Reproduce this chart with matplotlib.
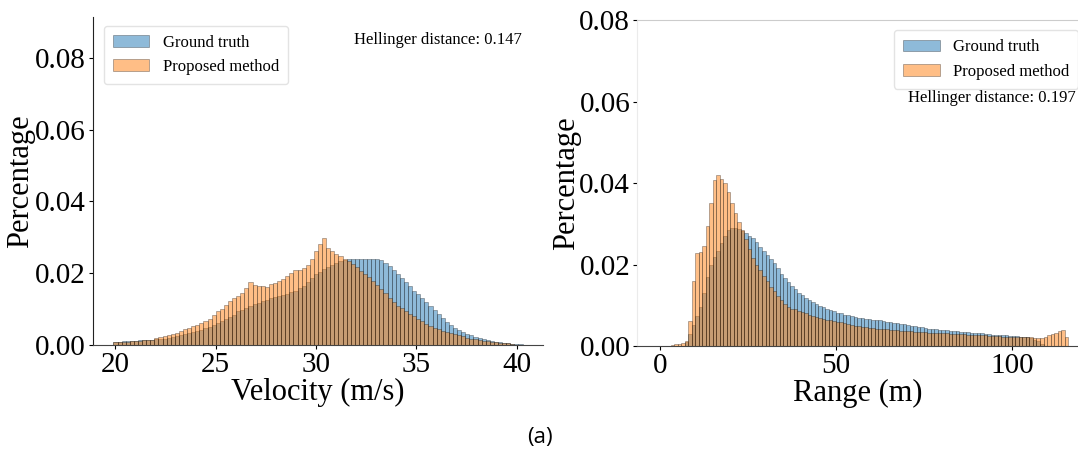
import numpy as np
import matplotlib
matplotlib.use("Agg")
import matplotlib.pyplot as plt
from matplotlib.ticker import FormatStrFormatter

plt.rcParams['font.family'] = ['Liberation Serif', 'DejaVu Serif']

# -----------------------------
# Input data (bin heights)
# -----------------------------

vel_lo, vel_hi, vel_nbins = 19.9, 40.3, 100

vel_truth = [
    0.0010, 0.0010, 0.0011, 0.0011, 0.0012, 0.0012, 0.0013, 0.0013, 0.0014, 0.0015,
    0.0016, 0.0017, 0.0018, 0.0020, 0.0022, 0.0024, 0.0027, 0.0030, 0.0033, 0.0036,
    0.0040, 0.0043, 0.0047, 0.0051, 0.0056, 0.0061, 0.0066, 0.0072, 0.0078, 0.0084,
    0.0094, 0.0099, 0.0104, 0.0109, 0.0114, 0.0118, 0.0122, 0.0126, 0.0130, 0.0134,
    0.0138, 0.0140, 0.0143, 0.0147, 0.0152, 0.0158, 0.0166, 0.0176, 0.0188, 0.0198,
    0.0205, 0.0212, 0.0218, 0.0224, 0.0229, 0.0234, 0.0237, 0.0240, 0.0241, 0.0241,
    0.0241, 0.0240, 0.0240, 0.0241, 0.0240, 0.0236, 0.0228, 0.0220, 0.0210, 0.0199,
    0.0188, 0.0176, 0.0164, 0.0152, 0.0142, 0.0131, 0.0120, 0.0108, 0.0097, 0.0086,
    0.0075, 0.0065, 0.0056, 0.0049, 0.0043, 0.0037, 0.0031, 0.0027, 0.0023, 0.0020,
    0.0017, 0.0014, 0.0012, 0.0010, 0.0008, 0.0006, 0.0005, 0.0004, 0.0003, 0.0002,
]

vel_proposed = [
    0.0008, 0.0009, 0.0010, 0.0010, 0.0011, 0.0012, 0.0012, 0.0013, 0.0014, 0.0015,
    0.0020, 0.0022, 0.0025, 0.0028, 0.0031, 0.0035, 0.0039, 0.0044, 0.0048, 0.0053,
    0.0057, 0.0062, 0.0066, 0.0074, 0.0083, 0.0094, 0.0101, 0.0112, 0.0122, 0.0130,
    0.0136, 0.0144, 0.0160, 0.0175, 0.0168, 0.0164, 0.0166, 0.0163, 0.0170, 0.0174,
    0.0178, 0.0185, 0.0192, 0.0200, 0.0208, 0.0210, 0.0216, 0.0224, 0.0240, 0.0262,
    0.0282, 0.0297, 0.0270, 0.0262, 0.0255, 0.0248, 0.0240, 0.0234, 0.0226, 0.0218,
    0.0206, 0.0198, 0.0189, 0.0178, 0.0167, 0.0156, 0.0144, 0.0132, 0.0120, 0.0110,
    0.0102, 0.0095, 0.0087, 0.0080, 0.0073, 0.0066, 0.0058, 0.0052, 0.0048, 0.0044,
    0.0040, 0.0037, 0.0034, 0.0030, 0.0027, 0.0024, 0.0021, 0.0018, 0.0016, 0.0014,
    0.0012, 0.0011, 0.0010, 0.0008, 0.0007, 0.0006, 0.0005, 0.0004, 0.0000, 0.0000,
]

rng_lo, rng_hi, rng_step = 3, 116, 1

rng_truth = [
    0.0000, 0.0000, 0.0000, 0.0000, 0.0010, 0.0030, 0.0052, 0.0074, 0.0095, 0.0130,
    0.0170, 0.0200, 0.0218, 0.0234, 0.0252, 0.0270, 0.0284, 0.0290, 0.0290, 0.0287,
    0.0282, 0.0277, 0.0270, 0.0264, 0.0255, 0.0243, 0.0233, 0.0224, 0.0214, 0.0203,
    0.0192, 0.0178, 0.0168, 0.0158, 0.0148, 0.0139, 0.0131, 0.0125, 0.0119, 0.0113,
    0.0108, 0.0104, 0.0099, 0.0095, 0.0091, 0.0088, 0.0085, 0.0082, 0.0080, 0.0077,
    0.0075, 0.0073, 0.0071, 0.0070, 0.0068, 0.0067, 0.0066, 0.0065, 0.0065, 0.0064,
    0.0062, 0.0060, 0.0058, 0.0057, 0.0056, 0.0054, 0.0053, 0.0051, 0.0050, 0.0049,
    0.0047, 0.0046, 0.0044, 0.0043, 0.0042, 0.0041, 0.0040, 0.0039, 0.0039, 0.0038,
    0.0037, 0.0036, 0.0035, 0.0035, 0.0034, 0.0033, 0.0032, 0.0031, 0.0031, 0.0030,
    0.0029, 0.0028, 0.0027, 0.0027, 0.0026, 0.0026, 0.0025, 0.0025, 0.0024, 0.0023,
    0.0022, 0.0021, 0.0019, 0.0016, 0.0012, 0.0006, 0.0000, 0.0000, 0.0000, 0.0000,
    0.0000, 0.0000, 0.0000,
]

rng_proposed = [
    0.0003, 0.0005, 0.0006, 0.0008, 0.0012, 0.0062, 0.0160, 0.0228, 0.0232, 0.0246,
    0.0295, 0.0352, 0.0408, 0.0421, 0.0411, 0.0399, 0.0377, 0.0351, 0.0327, 0.0305,
    0.0284, 0.0262, 0.0238, 0.0215, 0.0198, 0.0186, 0.0172, 0.0160, 0.0146, 0.0135,
    0.0124, 0.0112, 0.0103, 0.0095, 0.0092, 0.0090, 0.0087, 0.0083, 0.0080, 0.0077,
    0.0074, 0.0071, 0.0069, 0.0067, 0.0065, 0.0064, 0.0062, 0.0060, 0.0058, 0.0056,
    0.0054, 0.0052, 0.0050, 0.0049, 0.0047, 0.0046, 0.0045, 0.0044, 0.0043, 0.0042,
    0.0041, 0.0041, 0.0040, 0.0039, 0.0039, 0.0038, 0.0037, 0.0037, 0.0036, 0.0035,
    0.0035, 0.0034, 0.0034, 0.0033, 0.0033, 0.0032, 0.0032, 0.0031, 0.0031, 0.0030,
    0.0030, 0.0030, 0.0029, 0.0029, 0.0028, 0.0028, 0.0027, 0.0027, 0.0026, 0.0026,
    0.0025, 0.0025, 0.0024, 0.0024, 0.0023, 0.0023, 0.0023, 0.0022, 0.0022, 0.0022,
    0.0021, 0.0021, 0.0021, 0.0020, 0.0019, 0.0019, 0.0022, 0.0026, 0.0029, 0.0032,
    0.0036, 0.0039, 0.0022,
]

hellinger_vel = 0.147
hellinger_rng = 0.197

truth_color = "#1f77b4"
proposed_color = "#ff7f0e"

# -----------------------------
# Figure
# -----------------------------

fig = plt.figure(figsize=(10.78, 4.67), dpi=100)
ax1 = fig.add_axes([0.0863, 0.261, 0.4174, 0.702])
ax2 = fig.add_axes([0.591, 0.259, 0.409, 0.698])


def draw_hist(ax, edges, truth, proposed):
    left = edges[:-1]
    width = np.diff(edges)
    ax.bar(left, truth, width, align='edge', color=truth_color, alpha=0.5,
           edgecolor='k', linewidth=0.4, label="Ground truth")
    ax.bar(left, proposed, width, align='edge', color=proposed_color, alpha=0.5,
           edgecolor='k', linewidth=0.4, label="Proposed method")


# left: velocity
vel_edges = np.linspace(vel_lo, vel_hi, vel_nbins + 1)
draw_hist(ax1, vel_edges, vel_truth, vel_proposed)
ax1.set_ylim(0, 0.0913)
ax1.set_yticks([0, 0.02, 0.04, 0.06, 0.08])
ax1.yaxis.set_major_formatter(FormatStrFormatter('%.2f'))
ax1.set_xticks([20, 25, 30, 35, 40])
ax1.set_xlabel("Velocity (m/s)", fontsize=22, labelpad=0)
ax1.set_ylabel("Percentage", fontsize=22, labelpad=0)
ax1.spines['top'].set_visible(False)
ax1.spines['right'].set_visible(False)
ax1.spines['left'].set_color('#222222')
ax1.spines['bottom'].set_color('#444444')
ax1.tick_params(labelsize=21, length=3, width=0.8, pad=2)
ax1.legend(loc='upper left', bbox_to_anchor=(0.005, 1.0), fontsize=12,
           frameon=True, edgecolor='#dddddd', handlelength=2.2, borderpad=0.55)
ax1.text(0.953, 0.93, f"Hellinger distance: {hellinger_vel:.3f}",
         transform=ax1.transAxes, ha='right', va='center', fontsize=12)

# right: range
rng_edges = np.arange(rng_lo, rng_hi + rng_step, rng_step)
draw_hist(ax2, rng_edges, rng_truth, rng_proposed)
ax2.set_xlim(-6.5, 118.8)
ax2.set_ylim(0, 0.08)
ax2.set_yticks([0, 0.02, 0.04, 0.06, 0.08])
ax2.yaxis.set_major_formatter(FormatStrFormatter('%.2f'))
ax2.set_xticks([0, 50, 100])
ax2.set_xlabel("Range (m)", fontsize=22, labelpad=0)
ax2.set_ylabel("Percentage", fontsize=22, labelpad=-1)
ax2.spines['right'].set_visible(False)
ax2.spines['top'].set_color('#cccccc')
ax2.spines['left'].set_color('#ebebeb')
ax2.spines['bottom'].set_color('#444444')
ax2.tick_params(labelsize=21, length=3, width=0.8, pad=2)
ax2.legend(loc='upper right', bbox_to_anchor=(1.02, 0.995), fontsize=12,
           frameon=True, edgecolor='#dddddd', handlelength=2.2, borderpad=0.55)
ax2.text(0.995, 0.76, f"Hellinger distance: {hellinger_rng:.3f}",
         transform=ax2.transAxes, ha='right', va='center', fontsize=12)

fig.text(0.501, 0.064, "(a)", ha='center', va='center', fontsize=16,
         family=['Open Sans', 'DejaVu Sans'])

fig.savefig("out.png", dpi=100)
